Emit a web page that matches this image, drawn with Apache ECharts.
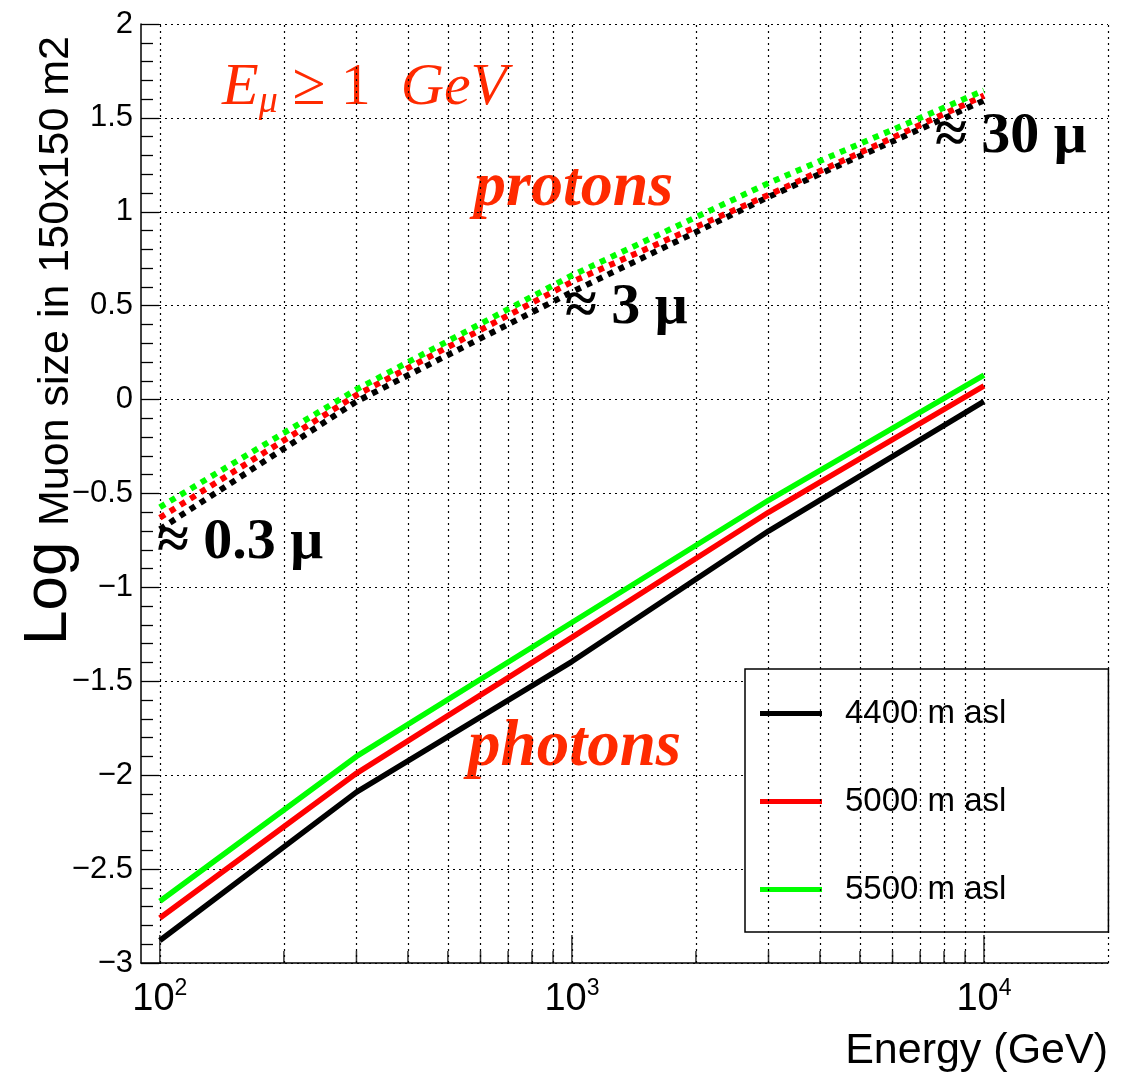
<!DOCTYPE html>
<html>
<head>
<meta charset="utf-8">
<script src="https://cdn.jsdelivr.net/npm/echarts@6/dist/echarts.min.js"></script>
<style>
html, body { margin: 0; padding: 0; background: #fff; }
#chart { width: 1138px; height: 1072px; }
</style>
</head>
<body>
<div id="chart"></div>
<script>
// energies (GeV) of the simulated showers
let energy = [100, 300, 1000, 3000, 10000];

// photons: log of muon size in 150x150 m2
let photons4400 = [-2.88, -2.09, -1.395, -0.70, -0.01];
let photons5000 = [-2.76, -1.99, -1.266, -0.60, 0.073];
let photons5500 = [-2.671, -1.90, -1.187, -0.536, 0.13];

// protons
let protons4400 = [-0.69, -0.01, 0.573, 1.079, 1.593];
let protons5000 = [-0.629, 0.024, 0.627, 1.09, 1.619];
let protons5500 = [-0.573, 0.054, 0.661, 1.153, 1.646];

let names = ['4400 m asl', '5000 m asl', '5500 m asl'];
let colors = ['#000000', '#ff0000', '#00ff00'];

// log axis grid / ticks
let majorE = [100, 1000, 10000];
let minorE = [200, 300, 400, 500, 600, 700, 800, 900,
              2000, 3000, 4000, 5000, 6000, 7000, 8000, 9000];
let xMin = 90, xMax = 20000;
let yMin = -3, yMax = 2;

function pairs(ys) {
    return energy.map((e, i) => [e, ys[i]]);
}

var dom = document.getElementById('chart');
var myChart = echarts.init(dom);

var dotted = { color: '#000', width: 1.2, type: [2, 4] };
var red = '#ff2a00';

function solid(name, ys, c) {
    return {
        name: name, type: 'line', data: pairs(ys), symbol: 'none',
        lineStyle: { color: c, width: 5.5 }, itemStyle: { color: c },
        silent: true, z: 5
    };
}
function dots(name, ys, c) {
    return {
        name: name, type: 'line', data: pairs(ys), symbol: 'none',
        lineStyle: { color: c, width: 6, type: [6, 6], cap: 'butt' },
        itemStyle: { color: c }, silent: true, z: 5
    };
}

var option = {
    animation: false,
    backgroundColor: '#fff',
    grid: { left: 141, right: 30, top: 24, bottom: 109 },
    xAxis: {
        type: 'log', logBase: 10, min: xMin, max: xMax,
        axisLine: { onZero: false, lineStyle: { color: '#000', width: 1.5 } },
        axisTick: { show: false },
        splitLine: { show: false },
        axisLabel: {
            showMinLabel: false, showMaxLabel: false, margin: 14,
            formatter: function (v) {
                let n = Math.log10(v);
                if (Math.abs(n - Math.round(n)) > 1e-6) return '';
                return '{b|10}{s|' + Math.round(n) + '}';
            },
            rich: {
                b: { fontFamily: 'Liberation Sans', fontSize: 38, color: '#000', verticalAlign: 'bottom', lineHeight: 42 },
                s: { fontFamily: 'Liberation Sans', fontSize: 23, color: '#000', verticalAlign: 'top', lineHeight: 42, padding: [0, 0, 14, 0] }
            }
        }
    },
    yAxis: {
        type: 'value', min: yMin, max: yMax, interval: 0.5,
        axisLine: { show: true, onZero: false, lineStyle: { color: '#000', width: 1.5 } },
        axisTick: { show: true, inside: true, length: 18, lineStyle: { color: '#000', width: 1.3 } },
        minorTick: { show: true, splitNumber: 5, length: 12, lineStyle: { color: '#000', width: 1.3 } },
        splitLine: { show: true, lineStyle: dotted },
        axisLabel: {
            margin: 8, color: '#000', fontFamily: 'Liberation Sans', fontSize: 31,
            formatter: function (v) {
                if (v === 0) return '0';
                return (v < 0 ? '\u2212' : '') + String(Math.abs(v));
            }
        }
    },
    legend: {
        orient: 'vertical', left: 745, top: 669,
        data: names.map(n => ({ name: n, icon: 'rect' })),
        itemWidth: 62, itemHeight: 5, itemGap: 55,
        padding: [28, 102, 26, 15],
        backgroundColor: '#fff', borderColor: '#000', borderWidth: 1.5,
        selectedMode: false,
        textStyle: {
            fontFamily: 'Liberation Sans', fontSize: 33, color: '#000',
            lineHeight: 32, padding: [0, 0, 0, 18]
        }
    },
    graphic: [
        {
            type: 'text', x: 222, y: 88,
            style: {
                text: '{i|E}{u|\u03bc}{n| \u2265 1  }{i|GeV}',
                textVerticalAlign: 'middle',
                rich: {
                    i: { fontFamily: 'Liberation Serif', fontStyle: 'italic', fontSize: 60, fill: red, lineHeight: 64 },
                    u: { fontFamily: 'Liberation Serif', fontStyle: 'italic', fontSize: 38, fill: red, lineHeight: 64, padding: [28, 0, 0, 0] },
                    n: { fontFamily: 'Liberation Serif', fontSize: 60, fill: red, lineHeight: 64 }
                }
            }
        },
        {
            type: 'text', x: 474, y: 188,
            style: { text: 'protons', fontFamily: 'Liberation Serif', fontStyle: 'italic', fontWeight: 'bold', fontSize: 64, fill: red, textVerticalAlign: 'middle' }
        },
        {
            type: 'text', x: 468, y: 748,
            style: { text: 'photons', fontFamily: 'Liberation Serif', fontStyle: 'italic', fontWeight: 'bold', fontSize: 65, fill: red, textVerticalAlign: 'middle' }
        },
        {
            type: 'text', x: 935, y: 137,
            style: { text: '\u2248 30 \u03bc', fontFamily: 'Liberation Serif', fontWeight: 'bold', fontSize: 58, fill: '#000', textVerticalAlign: 'middle' }
        },
        {
            type: 'text', x: 565, y: 308,
            style: { text: '\u2248 3 \u03bc', fontFamily: 'Liberation Serif', fontWeight: 'bold', fontSize: 58, fill: '#000', textVerticalAlign: 'middle' }
        },
        {
            type: 'text', x: 157, y: 543,
            style: { text: '\u2248 0.3 \u03bc', fontFamily: 'Liberation Serif', fontWeight: 'bold', fontSize: 58, fill: '#000', textVerticalAlign: 'middle' }
        },
        {
            type: 'text', x: 49, y: 645, rotation: Math.PI / 2,
            style: { text: 'Log', fontFamily: 'Liberation Sans', fontSize: 62, fill: '#000', textAlign: 'left', textVerticalAlign: 'middle' }
        },
        {
            type: 'text', x: 56, y: 526, rotation: Math.PI / 2,
            style: { text: 'Muon size in 150x150 m2', fontFamily: 'Liberation Sans', fontSize: 43, fill: '#000', textAlign: 'left', textVerticalAlign: 'middle' }
        },
        {
            type: 'text', x: 1108, y: 1051,
            style: { text: 'Energy (GeV)', fontFamily: 'Liberation Sans', fontSize: 43, fill: '#000', textAlign: 'right', textVerticalAlign: 'middle' }
        }
    ],
    series: [
        {
            // log-axis grid lines and ticks
            name: 'minor', type: 'scatter', silent: true, clip: false, z: 3,
            data: minorE.map(e => [e, yMin]),
            symbol: 'rect', symbolSize: [1.5, 12], symbolOffset: [0, -6],
            itemStyle: { color: '#000' },
            markLine: {
                silent: true, symbol: ['none', 'none'], label: { show: false },
                lineStyle: dotted, animation: false,
                data: majorE.concat(minorE, [xMax]).map(e => ({ xAxis: e }))
            }
        },
        {
            name: 'major', type: 'scatter', silent: true, clip: false, z: 3,
            data: majorE.map(e => [e, yMin]),
            symbol: 'rect', symbolSize: [1.5, 28], symbolOffset: [0, -14],
            itemStyle: { color: '#000' }
        },
        dots('protons 4400', protons4400, colors[0]),
        dots('protons 5000', protons5000, colors[1]),
        dots('protons 5500', protons5500, colors[2]),
        solid(names[0], photons4400, colors[0]),
        solid(names[1], photons5000, colors[1]),
        solid(names[2], photons5500, colors[2])
    ]
};

if (option && typeof option === 'object') {
    myChart.setOption(option);
}
</script>
</body>
</html>
